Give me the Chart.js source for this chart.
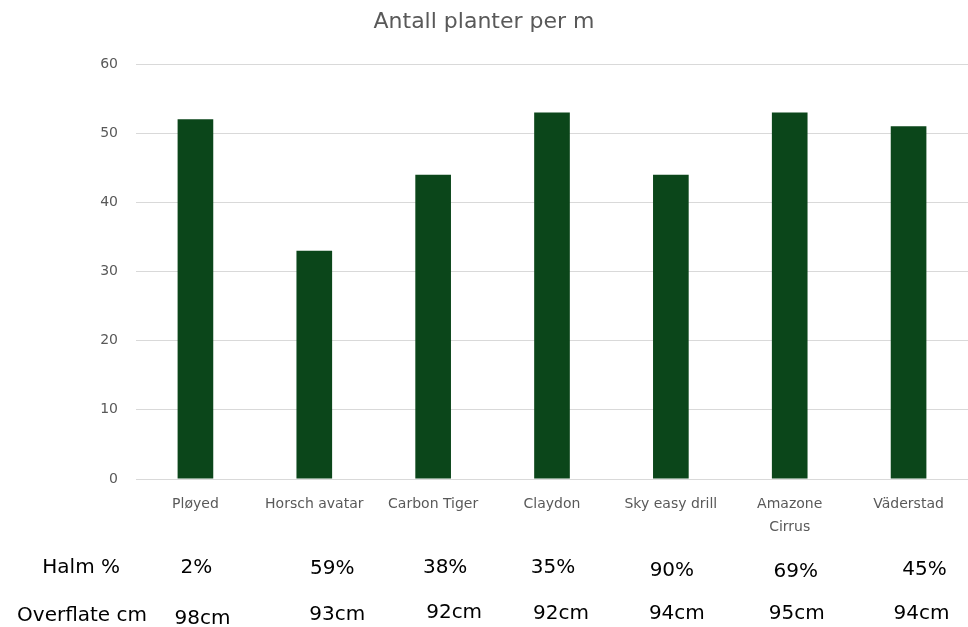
<!DOCTYPE html>
<html>
<head>
<meta charset="utf-8">
<script src="https://cdn.jsdelivr.net/npm/chart.js@4"></script>
<style>
html,body{margin:0;padding:0;background:#fff;}
#wrap{position:relative;width:968px;height:627px;}
</style>
</head>
<body>
<div id="wrap"><canvas id="c" width="968" height="627"></canvas></div>
<script>
const categories = ['Pløyed', 'Horsch avatar', 'Carbon Tiger', 'Claydon', 'Sky easy drill', ['Amazone', 'Cirrus'], 'Väderstad'];
const plantsPerM = [52, 33, 44, 53, 44, 53, 51];
const halmPct = ['2%', '59%', '38%', '35%', '90%', '69%', '45%'];
const overflateCm = ['98cm', '93cm', '92cm', '92cm', '94cm', '95cm', '94cm'];
const rowLabels = ['Halm %', 'Overflate cm'];
const yTicks = [0, 10, 20, 30, 40, 50, 60];

const FONT = '"DejaVu Sans", "Noto Sans", sans-serif';

const tablePlugin = {
  id: 'tableRows',
  afterDraw(chart) {
    const ctx = chart.ctx;
    const xs = chart.scales.x;
    const halmNudge = [1, 18, 12, 1, 1, 6, 16];
    const overNudge = [7, 23, 21, 9, 6, 7, 13];
    const halmY = [568, 569, 568, 568, 571, 572, 570];
    const overY = [619, 615, 613, 614, 614, 614, 614];
    ctx.save();
    ctx.fillStyle = '#000';
    ctx.font = '20px ' + FONT;
    ctx.textBaseline = 'middle';
    ctx.textAlign = 'right';
    ctx.fillText(rowLabels[0], 120, 568);
    ctx.fillText(rowLabels[1], 147, 616);
    ctx.textAlign = 'center';
    for (let i = 0; i < categories.length; i++) {
      const cx = xs.getPixelForValue(i);
      ctx.fillText(halmPct[i], cx + halmNudge[i], halmY[i]);
      ctx.fillText(overflateCm[i], cx + overNudge[i], overY[i]);
    }
    ctx.restore();
  }
};

new Chart(document.getElementById('c'), {
  type: 'bar',
  data: {
    labels: categories,
    datasets: [{
      data: plantsPerM,
      backgroundColor: '#0b461a',
      borderWidth: 0,
      barPercentage: 0.3,
      categoryPercentage: 1.0
    }]
  },
  options: {
    responsive: false,
    animation: false,
    layout: { padding: { left: 0, right: 0, top: 0, bottom: 88 } },
    plugins: {
      legend: { display: false },
      tooltip: { enabled: false },
      title: {
        display: true,
        text: 'Antall planter per m',
        color: '#595959',
        font: { family: FONT, size: 22, weight: 'normal', lineHeight: 1.2 },
        padding: { top: 9, bottom: 28.6 }
      }
    },
    scales: {
      x: {
        afterFit(s) { s.height = 60; },
        grid: { display: false },
        border: { display: true, color: '#d9d9d9' },
        ticks: {
          color: '#595959',
          font: { family: FONT, size: 14, lineHeight: 1.7 },
          maxRotation: 0, minRotation: 0, autoSkip: false, padding: 5
        }
      },
      y: {
        min: 0, max: 60,
        afterBuildTicks(s) { s.ticks = yTicks.map(v => ({ value: v })); },
        afterFit(s) { s.width = 136; },
        grid: { color: '#d9d9d9', drawTicks: false },
        border: { display: false },
        ticks: {
          color: '#595959',
          font: { family: FONT, size: 14 },
          padding: 18
        }
      }
    }
  },
  plugins: [tablePlugin]
});
</script>
</body>
</html>
